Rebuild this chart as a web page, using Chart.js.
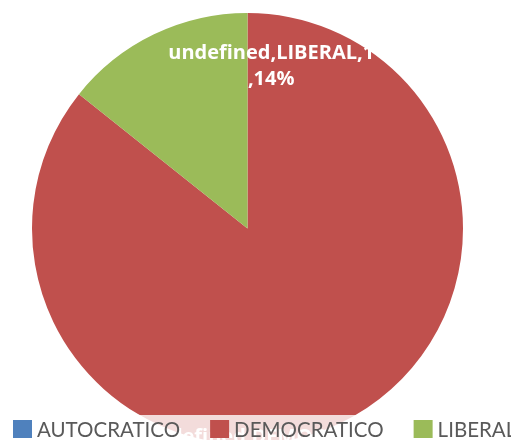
<!DOCTYPE html>
<html>
<head>
<meta charset="utf-8">
<script src="https://cdn.jsdelivr.net/npm/chart.js@4"></script>
<style>
    html, body { margin: 0; padding: 0; background: #fff; overflow: hidden; }
    #wrap { width: 511px; height: 440px; overflow: hidden; }
</style>
</head>
<body>
<div id="wrap"><canvas id="myChart" width="511" height="460"></canvas></div>
<script>
// chart data
var categories = ['AUTOCRATICO', 'DEMOCRATICO', 'LIBERAL'];
var values = [0, 6, 1];
var seriesName = 'undefined';
var colors = ['#4F81BD', '#C0504D', '#9BBB59'];

var total = values.reduce(function (a, b) { return a + b; }, 0);

// white data labels, "series,category,value,percent" like the original
var labelPlugin = {
    id: 'sliceLabels',
    afterDatasetsDraw: function (chart) {
        var ctx = chart.ctx;
        var meta = chart.getDatasetMeta(0);
        // where each label sits, relative to the pie centre (in radii)
        var spots = { 'LIBERAL': [0.11, -0.815], 'DEMOCRATICO': [0.15, 0.97] };
        ctx.save();
        ctx.font = 'bold 20px "Open Sans"';
        ctx.fillStyle = '#fff';
        ctx.textAlign = 'center';
        ctx.textBaseline = 'middle';
        meta.data.forEach(function (arc, i) {
            var spot = spots[categories[i]];
            if (!spot || !values[i]) return;
            var r = arc.outerRadius;
            var x = arc.x + spot[0] * r;
            var y = arc.y + spot[1] * r;
            var pct = Math.round(values[i] / total * 100) + '%';
            ctx.save();
            ctx.beginPath();
            ctx.rect(x - 106, y - 16, 212, 60);
            ctx.clip();
            ctx.fillText(seriesName + ',' + categories[i] + ',' + values[i], x, y);
            ctx.fillText(',' + pct, x, y + 26);
            ctx.restore();
        });
        ctx.restore();
    }
};

// legend band laid over the bottom of the pie
var legendPlugin = {
    id: 'bandLegend',
    afterDraw: function (chart) {
        var ctx = chart.ctx;
        ctx.save();
        ctx.fillStyle = 'rgba(255,255,255,0.8)';
        ctx.fillRect(0, 415, chart.width, 40);
        ctx.font = '20.5px Lato';
        ctx.textBaseline = 'middle';
        var x = 13;
        categories.forEach(function (name, i) {
            ctx.fillStyle = colors[i];
            ctx.fillRect(x, 420, 19, 18);
            ctx.fillStyle = '#595959';
            ctx.fillText(name, x + 24, 430);
            x += 24 + ctx.measureText(name).width + 30;
        });
        ctx.restore();
    }
};

var ctx = document.getElementById('myChart').getContext('2d');
window.myChart = new Chart(ctx, {
    type: 'pie',
    data: {
        labels: categories,
        datasets: [{
            label: seriesName,
            data: values,
            backgroundColor: colors,
            borderWidth: 0
        }]
    },
    options: {
        responsive: false,
        animation: false,
        layout: { padding: { top: 13, right: 16, bottom: 16, left: 0 } },
        plugins: {
            legend: { display: false },
            tooltip: { enabled: false }
        }
    },
    plugins: [labelPlugin, legendPlugin]
});
</script>
</body>
</html>
